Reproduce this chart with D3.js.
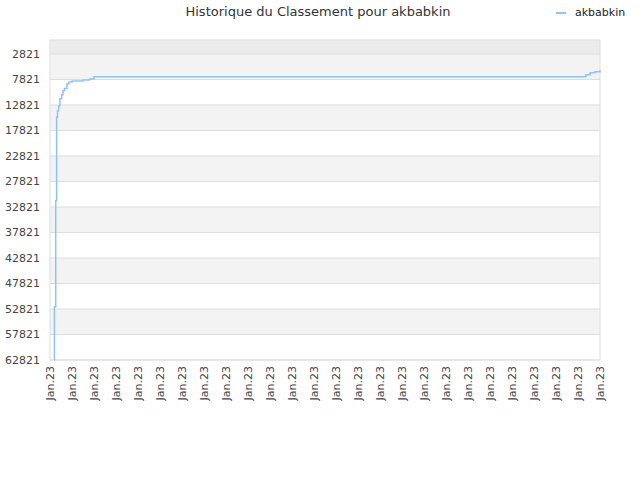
<!DOCTYPE html>
<html><head><meta charset="utf-8">
<script src="https://cdn.jsdelivr.net/npm/d3@7"></script>
<style>body{margin:0;background:#fff;font-family:"DejaVu Sans",sans-serif;}</style>
</head><body><div id="chart"></div>
<script>
var times = [1.8, 2.0, 2.6, 3.0, 3.4, 3.9, 4.5, 5.3, 5.9, 6.6, 7.7, 8.6, 10, 15, 18, 20, 242, 243.6, 245.5, 247.7, 250];
var ranks = [62821, 52400, 31600, 15200, 14000, 13000, 11600, 10800, 10000, 9600, 8700, 8300, 8100, 7900, 7700, 7300, 7300, 6900, 6500, 6300, 6000];
var yTicks = [2821, 7821, 12821, 17821, 22821, 27821, 32821, 37821, 42821, 47821, 52821, 57821, 62821];
var xTickLabels = d3.range(26).map(function() { return "Jan.23"; });

var width = 640, height = 480;
var svg = d3.select("#chart").append("svg").attr("width", width).attr("height", height);

var x = d3.scaleLinear().domain([0, 250]).range([50, 600]);
var y = d3.scaleLinear().domain([76, 62821]).range([40, 360]);

// bands
svg.append("rect").attr("x", 50).attr("y", 40).attr("width", 550).attr("height", y(2821) - 40).attr("fill", "#ececec");
for (var i = 0; i < yTicks.length - 1; i++) {
  svg.append("rect").attr("x", 50).attr("y", y(yTicks[i])).attr("width", 550)
    .attr("height", y(yTicks[i + 1]) - y(yTicks[i]))
    .attr("fill", i % 2 == 0 ? "#f3f3f3" : "#ffffff");
}
yTicks.forEach(function(t) {
  svg.append("line").attr("x1", 50).attr("x2", 600).attr("y1", y(t)).attr("y2", y(t)).attr("stroke", "#dddddd");
  svg.append("text").attr("x", 40).attr("y", y(t) + 4).attr("text-anchor", "end")
    .attr("font-size", 11).attr("fill", "#444").text(t);
});
svg.append("rect").attr("x", 50).attr("y", 40).attr("width", 550).attr("height", 320)
  .attr("fill", "none").attr("stroke", "#dddddd");

var xs = d3.scaleLinear().domain([0, xTickLabels.length - 1]).range([50, 600]);
xTickLabels.forEach(function(l, k) {
  svg.append("text").attr("transform", "translate(" + (xs(k) + 4) + ",366) rotate(-90)")
    .attr("text-anchor", "end").attr("font-size", 11).attr("fill", "#444").text(l);
});

var line = d3.line().x(function(d, i) { return x(times[i]); }).y(function(d) { return y(d); }).curve(d3.curveStepAfter);
svg.append("path").datum(ranks).attr("d", line).attr("fill", "none").attr("stroke", "#90c3f5").attr("stroke-width", 1.5);

svg.append("text").attr("x", 318).attr("y", 16).attr("text-anchor", "middle")
  .attr("font-size", 13).attr("fill", "#333").text("Historique du Classement pour akbabkin");
svg.append("line").attr("x1", 556).attr("x2", 566).attr("y1", 13).attr("y2", 13).attr("stroke", "#90c3f5").attr("stroke-width", 2);
svg.append("text").attr("x", 575).attr("y", 16).attr("font-size", 11).attr("fill", "#222").text("akbabkin");
</script></body></html>
